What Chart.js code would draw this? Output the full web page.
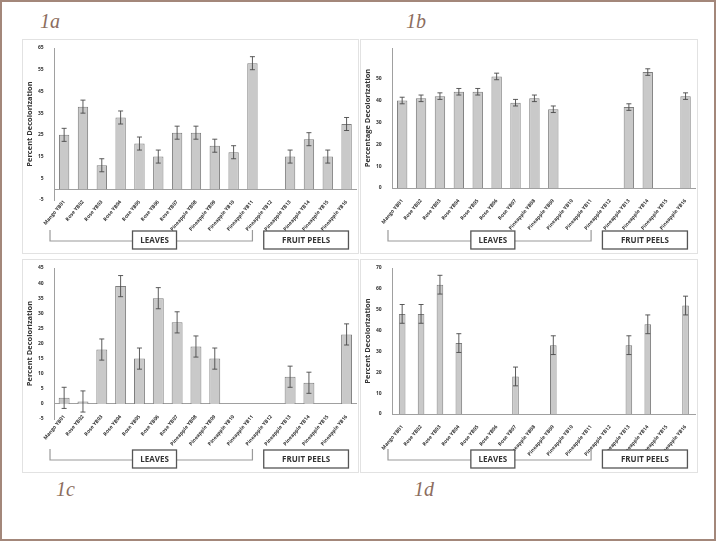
<!DOCTYPE html>
<html>
<head>
<meta charset="utf-8">
<script src="https://cdn.jsdelivr.net/npm/chart.js@4.4.1/dist/chart.umd.min.js"></script>
<style>
  html, body { margin: 0; padding: 0; background: #fff; }
  #page { position: relative; width: 716px; height: 541px; box-sizing: border-box; border: 2px solid #a3877a; overflow: hidden; }
  .panel { position: absolute; border: 1px solid #e2e2e2; box-sizing: border-box; background: #fff; }
  .tag { position: absolute; font-family: "Liberation Serif", serif; font-style: italic; font-size: 20px; color: #8c6d5e; }
</style>
</head>
<body>
<div id="page">
  <div class="tag" style="left:38px; top:8px;">1a</div>
  <div class="tag" style="left:404px; top:8px;">1b</div>
  <div class="tag" style="left:54px; top:476px;">1c</div>
  <div class="tag" style="left:412px; top:476px;">1d</div>
  <div class="panel" style="left:20px; top:37px; width:337px; height:215px;"><canvas id="c1a"></canvas></div>
  <div class="panel" style="left:358px; top:37px; width:338px; height:215px;"><canvas id="c1b"></canvas></div>
  <div class="panel" style="left:20px; top:257px; width:337px; height:214px;"><canvas id="c1c"></canvas></div>
  <div class="panel" style="left:358px; top:257px; width:338px; height:214px;"><canvas id="c1d"></canvas></div>
</div>
<script>
const categories = ['Mango YB01', 'Rose YB02', 'Rose YB03', 'Rose YB04', 'Rose YB05', 'Rose YB06', 'Rose YB07',
  'Pineapple YB08', 'Pineapple YB09', 'Pineapple YB10', 'Pineapple YB11', 'Pineapple YB12',
  'Pineapple YB13', 'Pineapple YB14', 'Pineapple YB15', 'Pineapple YB16'];

// 1a
const valuesA = [25, 38, 11, 33, 21, 15, 26, 26, 20, 17, 58, null, 15, 23, 15, 30];
const errorsA = [3, 3, 3, 3, 3, 3, 3, 3, 3, 3, 3, 0, 3, 3, 3, 3];
// 1b
const valuesB = [40, 41, 42, 44, 44, 51, 39, 41, 36, null, null, null, 37, 53, null, 42];
const errorsB = [1.5, 1.5, 1.5, 1.5, 1.5, 1.5, 1.5, 1.5, 1.5, 0, 0, 0, 1.5, 1.5, 0, 1.5];
// 1c
const valuesC = [2, 0.8, 18, 39, 15, 35, 27, 19, 15, null, null, null, 9, 7, null, 23];
const errorsC = [3.5, 3.5, 3.5, 3.5, 3.5, 3.5, 3.5, 3.5, 3.5, 0, 0, 0, 3.5, 3.5, 0, 3.5];
// 1d
const valuesD = [48, 48, 62, 34, null, null, 18, null, 33, null, null, null, 33, 43, null, 52];
const errorsD = [4.5, 4.5, 4.5, 4.5, 0, 0, 4.5, 0, 4.5, 0, 0, 0, 4.5, 4.5, 0, 4.5];

const groupLeaves = 'LEAVES';
const groupPeels = 'FRUIT PEELS';

const errorBars = {
  id: 'errorBars',
  afterDatasetsDraw(chart) {
    const errs = chart.options.plugins.errorBars.errors;
    const meta = chart.getDatasetMeta(0);
    const y = chart.scales.y;
    const ctx = chart.ctx;
    ctx.save();
    ctx.strokeStyle = '#4a4a4a';
    ctx.lineWidth = 0.9;
    meta.data.forEach((bar, i) => {
      const v = chart.data.datasets[0].data[i];
      if (v == null || !errs[i]) return;
      const top = y.getPixelForValue(v + errs[i]);
      const bot = y.getPixelForValue(v - errs[i]);
      ctx.beginPath();
      ctx.moveTo(bar.x, top); ctx.lineTo(bar.x, bot);
      ctx.moveTo(bar.x - 2.5, top); ctx.lineTo(bar.x + 2.5, top);
      ctx.moveTo(bar.x - 2.5, bot); ctx.lineTo(bar.x + 2.5, bot);
      ctx.stroke();
    });
    ctx.restore();
  }
};

const groupBrackets = {
  id: 'groupBrackets',
  afterDraw(chart) {
    const x = chart.scales.x;
    const ctx = chart.ctx;
    const at = idx => x.getPixelForValue(0) + idx * (x.getPixelForValue(1) - x.getPixelForValue(0));
    const by = chart.height - 12;
    const boxTop = chart.height - 22;
    const boxH = 18;
    ctx.save();
    // bracket under the leaves
    ctx.strokeStyle = '#9a9a9a';
    ctx.lineWidth = 1.2;
    ctx.beginPath();
    ctx.moveTo(at(-0.75), by - 11); ctx.lineTo(at(-0.75), by);
    ctx.lineTo(at(10), by); ctx.lineTo(at(10), by - 11);
    ctx.stroke();
    // boxes
    ctx.font = 'bold 8px "Open Sans", sans-serif';
    ctx.textAlign = 'center';
    ctx.textBaseline = 'middle';
    const box = (x0, x1, text) => {
      ctx.fillStyle = '#fff';
      ctx.fillRect(x0, boxTop, x1 - x0, boxH);
      ctx.strokeStyle = '#555';
      ctx.lineWidth = 1.3;
      ctx.strokeRect(x0, boxTop, x1 - x0, boxH);
      ctx.fillStyle = '#333';
      ctx.fillText(text, (x0 + x1) / 2, boxTop + boxH / 2 + 0.5);
    };
    const cL = at(4.8);
    box(cL - 22, cL + 22, groupLeaves);
    box(at(10.6), at(15.1), groupPeels);
    ctx.restore();
  }
};

function makePanel(id, values, errors, yTitle, yMin, yMax, step, barPct, padBottom, lastLabel) {
  return new Chart(document.getElementById(id), {
    type: 'bar',
    data: {
      labels: categories,
      datasets: [{
        data: values,
        backgroundColor: '#c9c9c9',
        borderColor: '#7d7d7d',
        borderWidth: 1,
        barPercentage: barPct,
        categoryPercentage: 1
      }]
    },
    options: {
      responsive: true,
      maintainAspectRatio: false,
      animation: false,
      layout: { padding: { top: 8, right: 2, bottom: padBottom, left: 1 } },
      plugins: {
        legend: { display: false },
        tooltip: { enabled: false },
        errorBars: { errors: errors }
      },
      scales: {
        x: {
          position: { y: 0 },
          grid: { display: false },
          border: { color: '#a0a0a0' },
          ticks: {
            color: '#333',
            font: { size: 5, weight: 'bold', family: '"Open Sans", sans-serif' },
            minRotation: 50, maxRotation: 50, autoSkip: false, padding: 2
          }
        },
        y: {
          min: yMin, max: yMax,
          grid: { display: false },
          border: { color: '#a0a0a0' },
          ticks: {
            stepSize: step,
            color: '#333',
            padding: 3,
            font: { size: 5, weight: 'bold', family: '"Open Sans", sans-serif' },
            callback: v => v > lastLabel ? '' : v
          },
          title: {
            display: true, text: yTitle, color: '#333', padding: 1,
            font: { size: 7.5, weight: 'bold', family: '"Open Sans", sans-serif' }
          }
        }
      }
    },
    plugins: [errorBars, groupBrackets]
  });
}

makePanel('c1a', valuesA, errorsA, 'Percent Decolorization', -5, 65, 10, 0.55, 53, 65);
makePanel('c1b', valuesB, errorsB, 'Percentage Decolorization', 0, 64, 10, 0.55, 65, 50);
makePanel('c1c', valuesC, errorsC, 'Percent Decolorization', -5, 45, 5, 0.58, 53, 45);
makePanel('c1d', valuesD, errorsD, 'Percent Decolorization', 0, 70, 10, 0.35, 58, 70);
</script>
</body>
</html>
